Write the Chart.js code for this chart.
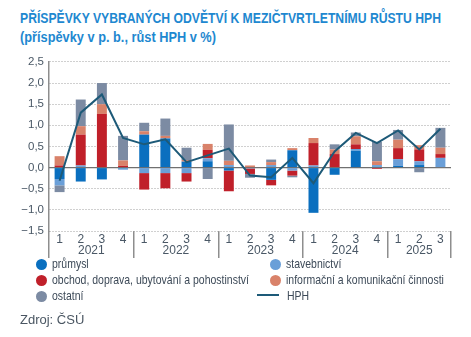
<!DOCTYPE html>
<html lang="cs">
<head>
<meta charset="utf-8">
<title>Příspěvky odvětví k růstu HPH</title>
<script src="https://cdn.jsdelivr.net/npm/chart.js@4/dist/chart.umd.min.js"></script>
<style>
  html, body { margin: 0; padding: 0; background: #fff; }
  body { width: 471px; height: 337px; position: relative; overflow: hidden; font-family: "Liberation Sans", Arial, sans-serif; }
  .title { position: absolute; left: 20px; color: #1e88d0; font-weight: bold; white-space: nowrap; transform-origin: left top; }
  #t1 { top: 10px; font-size: 14.5px; }
  #t2 { top: 29px; font-size: 14px; }
  #wrap { position: absolute; left: 0; top: 50px; width: 471px; height: 212px; }
  #legend { position: absolute; left: 0; top: 256px; width: 471px; height: 50px; }
  .item { position: absolute; font-size: 13.5px; color: #3d4a58; white-space: nowrap; line-height: 15px; }
  .item .txt { display: inline-block; transform-origin: left center; }
  .dot { display: inline-block; width: 11px; height: 11px; border-radius: 50%; vertical-align: -2px; margin-right: 5px; }
  .dash { display: inline-block; width: 22px; height: 2px; vertical-align: 4px; margin-right: 8px; }
  #src { position: absolute; left: 20px; top: 312px; font-size: 13px; color: #4a5662; white-space: nowrap; transform-origin: left top; }
</style>
</head>
<body>
<div class="title" id="t1">PŘÍSPĚVKY VYBRANÝCH ODVĚTVÍ K MEZIČTVRTLETNÍMU RŮSTU HPH</div>
<div class="title" id="t2">(příspěvky v p. b., růst HPH v %)</div>
<div id="wrap"><canvas id="chart"></canvas></div>
<div id="legend"></div>
<div id="src">Zdroj: ČSÚ</div>
<script>
// quarters 2021 Q1 – 2025 Q3
const quarters = ['1','2','3','4','1','2','3','4','1','2','3','4','1','2','3','4','1','2','3'];
const years = ['2021', '2022', '2023', '2024', '2025'];

// contributions in percentage points
const prumysl      = [-0.27, -0.33, -0.28, -0.02,  0.78,  0.69,  0.14,  0.15, -0.07,  0.00, -0.29,  0.41, -1.07, -0.17,  0.40,  0.02,  0.04,  0.06,  0.00];
const stavebnictvi = [-0.15,  0.05,  0.00, -0.03, -0.13, -0.13, -0.13,  0.07,  0.06, -0.02,  0.06, -0.07,  0.05,  0.00,  0.04,  0.04,  0.16,  0.09,  0.23];
const obchod       = [ 0.05,  0.73,  1.27,  0.04, -0.39, -0.36, -0.20,  0.20, -0.49, -0.13, -0.13, -0.12,  0.53,  0.32,  0.11, -0.03,  0.26,  0.28,  0.09];
const informacni   = [ 0.22,  0.20,  0.23,  0.13,  0.08,  0.06,  0.04,  0.14,  0.10,  0.05,  0.07,  0.05,  0.12,  0.11,  0.19,  0.09,  0.20,  0.10,  0.15];
const ostatni      = [-0.16,  0.63,  0.50,  0.58,  0.20,  0.41,  0.29, -0.27,  0.86, -0.09,  0.06, -0.04,  0.00,  0.12,  0.09,  0.46,  0.23, -0.11,  0.47];
// GVA growth q/q, %
const hph          = [-0.31,  1.30,  1.73,  0.70,  0.55,  0.67,  0.13,  0.29,  0.45, -0.19, -0.23,  0.23, -0.37,  0.38,  0.82,  0.58,  0.88,  0.43,  0.92];

const colors = {
  prumysl: '#0a6fbf',
  stavebnictvi: '#6a9fd8',
  obchod: '#c0202a',
  informacni: '#d9826a',
  ostatni: '#7c8ba3',
  hph: '#1d5a78'
};

function bar(label, data, color) {
  return {
    type: 'bar', label, data,
    backgroundColor: color,
    stack: 'odvetvi',
    order: 1,
    barPercentage: 0.47,
    categoryPercentage: 1
  };
}

const datasets = [
  bar('průmysl', prumysl, colors.prumysl),
  bar('stavebnictví', stavebnictvi, colors.stavebnictvi),
  bar('obchod, doprava, ubytování a pohostinství', obchod, colors.obchod),
  bar('informační a komunikační činnosti', informacni, colors.informacni),
  bar('ostatní', ostatni, colors.ostatni),
  {
    type: 'line', label: 'HPH', data: hph,
    borderColor: colors.hph, borderWidth: 2,
    pointRadius: 0, tension: 0, stack: 'hph', order: 0
  }
];

const tickColor = '#4a5866';
const axisColor = '#8e8e8e';

// zero line and year labels under the quarter ticks
const extras = {
  id: 'extras',
  beforeDatasetsDraw(chart) {
    const { ctx, chartArea, scales } = chart;
    const y0 = scales.y.getPixelForValue(0);
    ctx.save();
    ctx.strokeStyle = '#707070';
    ctx.lineWidth = 1.3;
    ctx.beginPath();
    ctx.moveTo(chartArea.left, y0);
    ctx.lineTo(chartArea.right, y0);
    ctx.stroke();
    ctx.restore();
  },
  afterDraw(chart) {
    const { ctx, chartArea, scales } = chart;
    ctx.save();
    ctx.font = '12px "Liberation Sans", sans-serif';
    ctx.fillStyle = tickColor;
    ctx.textAlign = 'center';
    ctx.textBaseline = 'top';
    years.forEach((yr, i) => {
      const first = i * 4;
      const last = Math.min(first + 3, quarters.length - 1);
      const x = (scales.x.getPixelForValue(first) + scales.x.getPixelForValue(last)) / 2;
      ctx.fillText(yr, x, chartArea.bottom + 14);
    });
    ctx.restore();
  }
};

new Chart(document.getElementById('chart'), {
  data: { labels: quarters, datasets },
  options: {
    responsive: true,
    maintainAspectRatio: false,
    animation: false,
    layout: { padding: { top: 10, right: 20, left: 0, bottom: 0 } },
    plugins: { legend: { display: false }, tooltip: { enabled: false } },
    scales: {
      x: {
        stacked: true,
        offset: true,
        grid: {
          offset: true,
          drawOnChartArea: false,
          drawTicks: true,
          tickLength: 27,
          lineWidth: 1.5,
          color: ctx => (ctx.index === undefined || ctx.index % 4 === 0) ? axisColor : 'rgba(0,0,0,0)'
        },
        border: { display: false },
        ticks: {
          padding: -26,
          color: tickColor,
          font: { family: '"Liberation Sans", sans-serif', size: 12 },
          maxRotation: 0,
          autoSkip: false
        },
        afterFit: s => { s.height = 31; }
      },
      y: {
        stacked: true,
        min: -1.5,
        max: 2.5,
        ticks: {
          stepSize: 0.5,
          padding: 5,
          color: tickColor,
          font: { family: '"Liberation Sans", sans-serif', size: 11.5 },
          callback: v => v.toFixed(1).replace('.', ',').replace('-', '−')
        },
        grid: { drawTicks: false, color: '#a0a0a0', lineWidth: 1 },
        border: { display: true, color: axisColor, width: 1.5, dash: [1, 2] },
        afterFit: s => { s.width = 49; }
      }
    }
  },
  plugins: [extras]
});

// legend in two columns
const legendItems = [
  { label: 'průmysl', color: colors.prumysl, x: 36, y: 0 },
  { label: 'stavebnictví', color: colors.stavebnictvi, x: 270, y: 0 },
  { label: 'obchod, doprava, ubytování a pohostinství', color: colors.obchod, x: 36, y: 16 },
  { label: 'informační a komunikační činnosti', color: colors.informacni, x: 270, y: 16 },
  { label: 'ostatní', color: colors.ostatni, x: 36, y: 32 },
  { label: 'HPH', color: colors.hph, x: 257, y: 32, line: true }
];
const legend = document.getElementById('legend');
const legendTexts = [];
legendItems.forEach(it => {
  const el = document.createElement('div');
  el.className = 'item';
  el.style.left = it.x + 'px';
  el.style.top = it.y + 'px';
  const mark = document.createElement('span');
  mark.className = it.line ? 'dash' : 'dot';
  mark.style.background = it.color;
  const txt = document.createElement('span');
  txt.className = 'txt';
  txt.textContent = it.label;
  el.appendChild(mark);
  el.appendChild(txt);
  legend.appendChild(el);
  legendTexts.push(txt);
});

// the typeface is set in a condensed cut, so squeeze the wider fallback to the same run length
function squeeze(el, width) {
  const w = el.getBoundingClientRect().width;
  if (w > 0) el.style.transform = 'scaleX(' + (width / w) + ')';
}
squeeze(document.getElementById('t1'), 421);
squeeze(document.getElementById('t2'), 196);
const longW = legendTexts[2].getBoundingClientRect().width;
const k = 197 / longW;
legendTexts.forEach(t => { t.style.transform = 'scaleX(' + k + ')'; });
</script>
</body>
</html>
